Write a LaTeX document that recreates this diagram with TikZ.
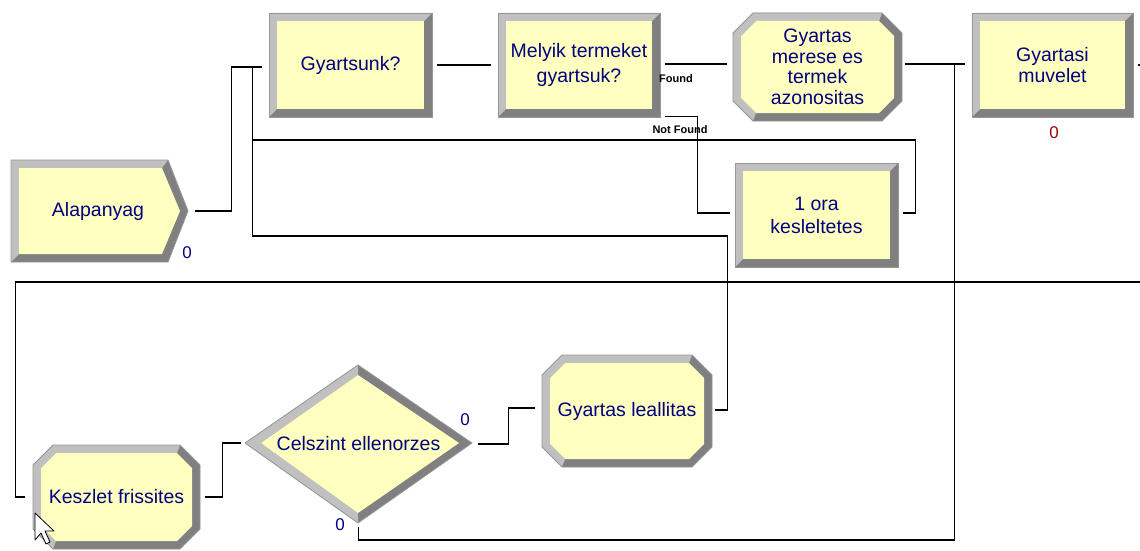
\documentclass[tikz,border=0pt]{standalone}
\usepackage{fontspec}
\setmainfont{Liberation Sans}
\usetikzlibrary{calc}

\definecolor{modfill}{RGB}{255,255,192}
\definecolor{bevlight}{RGB}{192,192,192}
\definecolor{bevdark}{RGB}{128,128,128}
\definecolor{bevedge}{RGB}{150,150,150}
\definecolor{modtext}{RGB}{0,0,128}
\definecolor{cntred}{RGB}{160,0,0}

\tikzset{
  modlabel/.style={inner sep=0pt,align=center,text=modtext,font=\fontsize{19.5}{20.5}\selectfont},
  wire/.style={line width=1.1pt,black},
  counter/.style={inner sep=0pt,text=modtext,font=\fontsize{17}{17}\selectfont},
  branch/.style={inner sep=0pt,font=\fontsize{11}{11}\selectfont\bfseries},
}

% #1 name, #2-#5 outer box (x1,y1,x2,y2), #6 label
\newcommand{\rectmodule}[6]{%
  \fill[bevdark] (#2,#3) rectangle (#4,#5);
  \fill[bevlight] (#2,#3) -- (#4,#3) -- ({#4-8},{#3+8}) -- ({#2+8},{#3+8}) -- ({#2+8},{#5-8}) -- (#2,#5) -- cycle;
  \fill[modfill] ({#2+8},{#3+8}) rectangle ({#4-8},{#5-8});
  \draw[bevedge,line width=0.8pt] (#2,#3) rectangle (#4,#5);
  \node[modlabel,minimum width={#4-#2},minimum height={#5-#3}] (#1) at ({(#2+#4)/2},{(#3+#5)/2}) {#6};
}
\newcommand{\octmodule}[6]{%
  \fill[bevdark] ({#2+20},#3) -- ({#4-20},#3) -- (#4,{#3+20}) -- (#4,{#5-20}) -- ({#4-20},#5) -- ({#2+20},#5) -- (#2,{#5-20}) -- (#2,{#3+20}) -- cycle;
  \fill[bevlight] ({#2+20},#5) -- (#2,{#5-20}) -- (#2,{#3+20}) -- ({#2+20},#3) -- ({#4-20},#3)
    -- ({#4-23},{#3+8}) -- ({#2+23},{#3+8}) -- ({#2+8},{#3+23}) -- ({#2+8},{#5-23}) -- ({#2+23},{#5-8}) -- cycle;
  \fill[modfill] ({#2+23},{#3+8}) -- ({#4-23},{#3+8}) -- ({#4-8},{#3+23}) -- ({#4-8},{#5-23}) -- ({#4-23},{#5-8}) -- ({#2+23},{#5-8}) -- ({#2+8},{#5-23}) -- ({#2+8},{#3+23}) -- cycle;
  \draw[bevedge,line width=0.8pt] ({#2+20},#3) -- ({#4-20},#3) -- (#4,{#3+20}) -- (#4,{#5-20}) -- ({#4-20},#5) -- ({#2+20},#5) -- (#2,{#5-20}) -- (#2,{#3+20}) -- cycle;
  \node[modlabel,minimum width={#4-#2},minimum height={#5-#3}] (#1) at ({(#2+#4)/2},{(#3+#5)/2}) {#6};
}

\begin{document}
\begin{tikzpicture}[x=1pt,y=-1pt]
\useasboundingbox (0,0) rectangle (1140,551);
\clip (0,0) rectangle (1140,551);
\fill[white] (0,0) rectangle (1140,551);
% Drawing modules
% Create: Alapanyag
\fill[bevdark] (11,160) -- (168,160) -- (188,211) -- (168,262) -- (11,262) -- cycle;
\fill[bevlight] (11,160) -- (168,160) -- (162,168) -- (19,168) -- (19,254) -- (11,262) -- cycle;
\fill[modfill] (19,168) -- (162,168) -- (180,211) -- (162,254) -- (19,254) -- cycle;
\draw[bevedge,line width=0.8pt] (11,160) -- (168,160) -- (188,211) -- (168,262) -- (11,262) -- cycle;
\node[modlabel,minimum width=177,minimum height=102] (alap) at (98,211) {Alapanyag};
% Decide and process blocks
\rectmodule{gy}{269}{13}{432}{117}{Gyartsunk?}
\rectmodule{mel}{498}{13}{660}{117}{Melyik termeket\\[5pt]gyartsuk?}
\octmodule{mer}{733}{13}{902}{121}{Gyartas\\merese es\\termek\\azonositas}
\rectmodule{mu}{972}{13}{1133}{117}{Gyartasi\\muvelet}
\rectmodule{kes}{735}{163}{898}{267}{1 ora\\[2.5pt]kesleltetes}
\octmodule{ksz}{33}{445}{200}{549}{Keszlet frissites}
\octmodule{lea}{542}{355}{712}{467}{Gyartas leallitas}
% Decide: Celszint ellenorzes
\fill[bevdark] (245,443) -- (358,365) -- (472,443) -- (358,523) -- cycle;
\fill[bevlight] (358,365) -- (245,443) -- (358,523) -- (358,513) -- (261,443) -- (358,375) -- cycle;
\fill[modfill] (261,443) -- (358,375) -- (459,443) -- (358,513) -- cycle;
\draw[bevedge,line width=0.8pt] (245,443) -- (358,365) -- (472,443) -- (358,523) -- cycle;
\node[modlabel,minimum width=227,minimum height=158] (cel) at (358.5,444) {Celszint ellenorzes};
% Done with modules; drawing connection points
\coordinate (alap-out) at ($(alap.east)+(8.5,0)$);
\coordinate (gy-in) at ($(gy.west)+(-7,2)$);
\coordinate (gy-out) at ($(gy.east)+(5,0)$);
\coordinate (gy-join) at ($(gy-in)+(-9,0)$);
\coordinate (mel-in) at ($(mel.west)+(-7,0)$);
\coordinate (mel-found) at ($(mel.east)+(5,-1)$);
\coordinate (mel-nf) at ($(mel.south east)+(5,-1)$);
\coordinate (mer-in) at ($(mer.west)+(-6,-3)$);
\coordinate (mer-out) at ($(mer.east)+(3,-3)$);
\coordinate (mu-in) at ($(mu.west)+(-7,-1)$);
\coordinate (mu-out) at ($(mu.east)+(5,0)$);
\coordinate (mu-join) at ($(mu-in)+(-10,0)$);
\coordinate (kes-in) at ($(kes.west)+(-5,-2)$);
\coordinate (kes-out) at ($(kes.east)+(5,-2)$);
\coordinate (ksz-in) at ($(ksz.west)+(-8,0)$);
\coordinate (ksz-out) at ($(ksz.east)+(5,0)$);
\coordinate (cel-in) at ($(cel.west)+(-4,-1)$);
\coordinate (cel-yes) at ($(cel.east)+(6,0)$);
\coordinate (cel-no) at ($(cel.south)+(0,4)$);
\coordinate (lea-in) at ($(lea.west)+(-7,-3)$);
\coordinate (lea-out) at ($(lea.east)+(3,-1)$);
% Drawing connectors
\draw[wire] (alap-out) -- ++(36,0) |- (gy-in);
\draw[wire] (gy-out) -- (mel-in);
\draw[wire] (mel-found) -- (mer-in);
\draw[wire] (mel-nf) -- ++(32,0) |- (kes-in);
\draw[wire] (kes-out) -- ++(12,0) |- ($(gy-join)+(0,73)$) -- (gy-join);
\draw[wire] (lea-out) -- ++(12,0) |- ($(gy-join)+(0,169)$) -- (gy-join);
\draw[wire] (mer-out) -- (mu-in);
\draw[wire] (cel-no) |- ($(mu-join)+(0,476)$) -- (mu-join);
\draw[wire] (mu-out) -- ++(30,0) |- ($(ksz-in)+(-9,-215)$) |- (ksz-in);
\draw[wire] (ksz-out) -- ++(17,0) |- (cel-in);
\draw[wire] (cel-yes) -- ++(30,0) |- (lea-in);
% Done with connectors; drawing branch labels and counters
\node[branch] (lbl-found) at (676,78.5) {Found};
\node[branch] (lbl-nf) at (680,130) {Not Found};
\node[counter] (cnt-alap) at (187,253) {0};
\node[counter] (cnt-yes) at (465,420) {0};
\node[counter] (cnt-no) at (340,525) {0};
\node[counter,text=cntred] (cnt-mu) at (1054,133) {0};
% Mouse pointer
\draw[fill=white,line width=0.8pt,line join=round] (35,513) -- (35,540) -- (41,533) -- (46,544) -- (50,542) -- (45,531) -- (54,531) -- cycle;
\end{tikzpicture}
\end{document}
